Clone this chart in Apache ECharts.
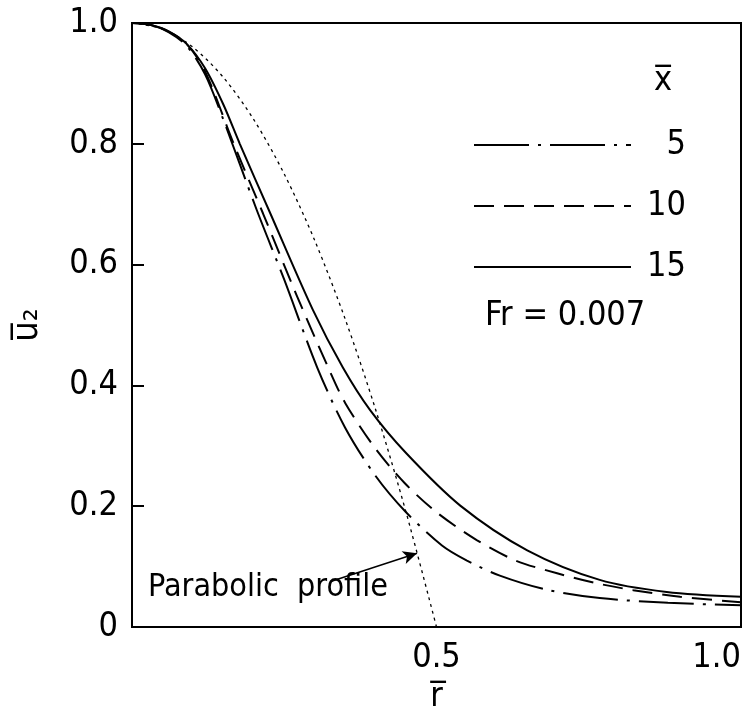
<!DOCTYPE html>
<html>
<head>
<meta charset="utf-8">
<script src="https://cdn.jsdelivr.net/npm/echarts@6/dist/echarts.min.js"></script>
<style>html,body{margin:0;padding:0;background:#fff;}#main{width:756px;height:726px;}</style>
</head>
<body>
<div id="main"></div>
<script>
var r5  = [0, 0.03, 0.06, 0.09, 0.12, 0.15, 0.205, 0.25, 0.304, 0.35, 0.40, 0.45, 0.509, 0.55, 0.604, 0.68, 0.768, 0.88, 1.0];
var u5  = [1, 0.997, 0.985, 0.962, 0.915, 0.84, 0.69, 0.575, 0.43, 0.33, 0.25, 0.19, 0.135, 0.11, 0.085, 0.062, 0.048, 0.04, 0.036];
var r10 = [0, 0.03, 0.06, 0.09, 0.12, 0.167, 0.215, 0.27, 0.322, 0.35, 0.40, 0.448, 0.5, 0.566, 0.63, 0.698, 0.76, 0.823, 0.9, 1.0];
var u10 = [1, 0.997, 0.986, 0.965, 0.92, 0.80, 0.685, 0.55, 0.43, 0.371, 0.295, 0.238, 0.19, 0.144, 0.11, 0.089, 0.073, 0.061, 0.05, 0.041];
var r15 = [0, 0.03, 0.06, 0.09, 0.12, 0.15, 0.177, 0.227, 0.297, 0.346, 0.391, 0.45, 0.539, 0.649, 0.768, 0.878, 1.0];
var u15 = [1, 0.997, 0.986, 0.965, 0.925, 0.865, 0.80, 0.685, 0.525, 0.43, 0.359, 0.288, 0.201, 0.127, 0.078, 0.058, 0.05];
var rPar = [0, 0.05, 0.1, 0.15, 0.2, 0.25, 0.3, 0.35, 0.4, 0.45, 0.5];
var uPar = [1, 0.99, 0.96, 0.91, 0.84, 0.75, 0.64, 0.51, 0.36, 0.19, 0.0];
var xTicks = ['0.5', '1.0'];
var yTicks = ['0', '0.2', '0.4', '0.6', '0.8', '1.0'];

function pairs(xs, ys) { return xs.map(function (x, i) { return [x, ys[i]]; }); }

var font = '"DejaVu Sans Condensed", "DejaVu Sans"';
var chart = echarts.init(document.getElementById('main'));
function curve(name, xs, ys, type) {
  return { name: name, type: 'line', data: pairs(xs, ys), smooth: 0.3, symbol: 'none',
    itemStyle: { color: '#000' }, lineStyle: { color: '#000', width: 2, type: type } };
}
chart.setOption({
  animation: false,
  backgroundColor: '#fff',
  grid: { left: 132, top: 23, width: 609, height: 604, show: true, borderColor: '#000', borderWidth: 2,
    containLabel: false, outerBoundsMode: 'none' },
  xAxis: {
    type: 'value', min: 0, max: 1, interval: 0.5,
    name: 'r\u0305', nameLocation: 'middle', nameGap: 40,
    nameTextStyle: { fontFamily: font, fontSize: 34, color: '#000' },
    axisLine: { show: true, lineStyle: { color: '#000', width: 2 } },
    axisTick: { show: false },
    splitLine: { show: false },
    axisLabel: {
      fontFamily: font, fontSize: 34, color: '#000', margin: 14,
      alignMaxLabel: 'right',
      formatter: function (v) { var s = v.toFixed(1); return xTicks.indexOf(s) >= 0 ? s : ''; }
    }
  },
  yAxis: {
    type: 'value', min: 0, max: 1, interval: 0.2,
    name: 'u\u0305\u2082', nameLocation: 'middle', nameGap: 86, nameRotate: 90,
    nameTextStyle: { fontFamily: font, fontSize: 36, color: '#000' },
    axisLine: { show: true, lineStyle: { color: '#000', width: 2 } },
    axisTick: { show: true, inside: true, length: 12, lineStyle: { color: '#000', width: 2 } },
    splitLine: { show: false },
    axisLabel: {
      fontFamily: font, fontSize: 34, color: '#000', margin: 14,
      formatter: function (v) { var s = v === 0 ? '0' : v.toFixed(1); return yTicks.indexOf(s) >= 0 ? s : ''; }
    }
  },
  legend: {
    data: ['5', '10', '15'],
    orient: 'vertical', left: 468, top: 123,
    itemWidth: 157, itemHeight: 34, itemGap: 27,
    itemStyle: { opacity: 0 },
    formatter: function (n) { return '{a|' + n + '}'; },
    textStyle: { fontFamily: font, fontSize: 34, color: '#000',
      rich: { a: { fontFamily: font, fontSize: 34, color: '#000', width: 50, align: 'right' } } },
    selectedMode: false
  },
  graphic: [
    { type: 'text', left: 654, top: 64, style: { text: 'x\u0305', font: '34px "DejaVu Sans Condensed", "DejaVu Sans"', fill: '#000' } },
    { type: 'text', left: 485, top: 299, style: { text: 'Fr = 0.007', font: '34px "DejaVu Sans Condensed", "DejaVu Sans"', fill: '#000' } },
    { type: 'text', left: 148, top: 572, style: { text: 'Parabolic  profile', font: '32px "DejaVu Sans Condensed", "DejaVu Sans"', fill: '#000' } }
  ],
  series: [
    curve('5', r5, u5, [55, 9, 3, 9]),
    curve('10', r10, u10, [20, 10]),
    curve('15', r15, u15, 'solid'),
    { name: 'Parabolic profile', type: 'line', data: pairs(rPar, uPar), smooth: 0.3, symbol: 'none',
      itemStyle: { color: '#000' },
      lineStyle: { color: '#000', width: 1.3, type: [3, 4] },
      markLine: {
        silent: true, symbol: ['none', 'arrow'], symbolSize: [10, 14],
        label: { show: false },
        lineStyle: { color: '#000', width: 1.5, type: 'solid' },
        data: [[{ coord: [0.325, 0.075] }, { coord: [0.468, 0.122] }]]
      }
    }
  ]
});
</script>
</body>
</html>
